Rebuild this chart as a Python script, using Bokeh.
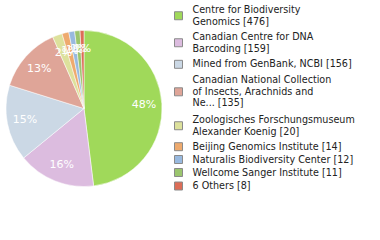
import math
from bokeh.plotting import figure
from bokeh.models import Range1d, ColumnDataSource
from bokeh.core.properties import value
from bokeh.embed import file_html
from bokeh.resources import INLINE

legend_lines = [
    ["Centre for Biodiversity", "Genomics [476]"],
    ["Canadian Centre for DNA", "Barcoding [159]"],
    ["Mined from GenBank, NCBI [156]"],
    ["Canadian National Collection", "of Insects, Arachnids and", "Ne... [135]"],
    ["Zoologisches Forschungsmuseum", "Alexander Koenig [20]"],
    ["Beijing Genomics Institute [14]"],
    ["Naturalis Biodiversity Center [12]"],
    ["Wellcome Sanger Institute [11]"],
    ["6 Others [8]"],
]
counts = [476, 159, 156, 135, 20, 14, 12, 11, 8]
colors = ["#a0d95a", "#dcbcdf", "#cbd8e5", "#dfa598", "#dde19c",
          "#eeaa6e", "#98b9df", "#9bc56e", "#dc6d57"]

W, H = 380, 240
p = figure(width=W, height=H, output_backend="svg", toolbar_location=None,
           x_range=Range1d(0, W), y_range=Range1d(0, H), min_border=0)
p.axis.visible = False
p.grid.visible = False
p.outline_line_color = None
p.background_fill_color = "white"

cx, cy, r = 83.5, H - 108, 78
total = sum(counts)
cum = 0
starts, ends, mids = [], [], []
for c in counts:
    a0 = math.pi / 2 - 2 * math.pi * cum / total
    cum += c
    a1 = math.pi / 2 - 2 * math.pi * cum / total
    starts.append(a0); ends.append(a1); mids.append((a0 + a1) / 2)

src = ColumnDataSource(dict(start=starts, end=ends, color=colors))
p.wedge(x=cx, y=cy, radius=r, start_angle="start", end_angle="end",
        direction="clock", fill_color="color", line_color="white",
        line_width=0.5, source=src)

pct = [f"{max(1, math.floor(100 * c / total))}%" for c in counts]
lr = 0.77 * r
p.text(x=[cx + lr * math.cos(m) for m in mids], y=[cy + lr * math.sin(m) for m in mids],
       text=pct, text_color="white", text_font=value("DejaVu Sans"),
       text_font_size="11px", text_align="center", text_baseline="middle")

# legend layout (screen y of each item's first line)
item_y = [9, 36, 63.3, 79.3, 119, 145.7, 158.5, 171.5, 185]
line_h = 11.5
sx, tx = 178, 192
for lines, col, y in zip(legend_lines, colors, item_y):
    n = len(lines)
    block_mid = y + (n - 1) * line_h / 2 + 0.5
    p.rect(x=sx, y=H - block_mid, width=8, height=8, fill_color=col,
           line_color="#8a8a8a", line_width=1)
    for i, t in enumerate(lines):
        p.text(x=tx, y=H - (y + i * line_h), text=[t], text_color="#222222",
               text_font=value("DejaVu Sans"), text_font_size="9.6px",
               text_baseline="middle")

open("out.html", "w").write(file_html(p, INLINE))
